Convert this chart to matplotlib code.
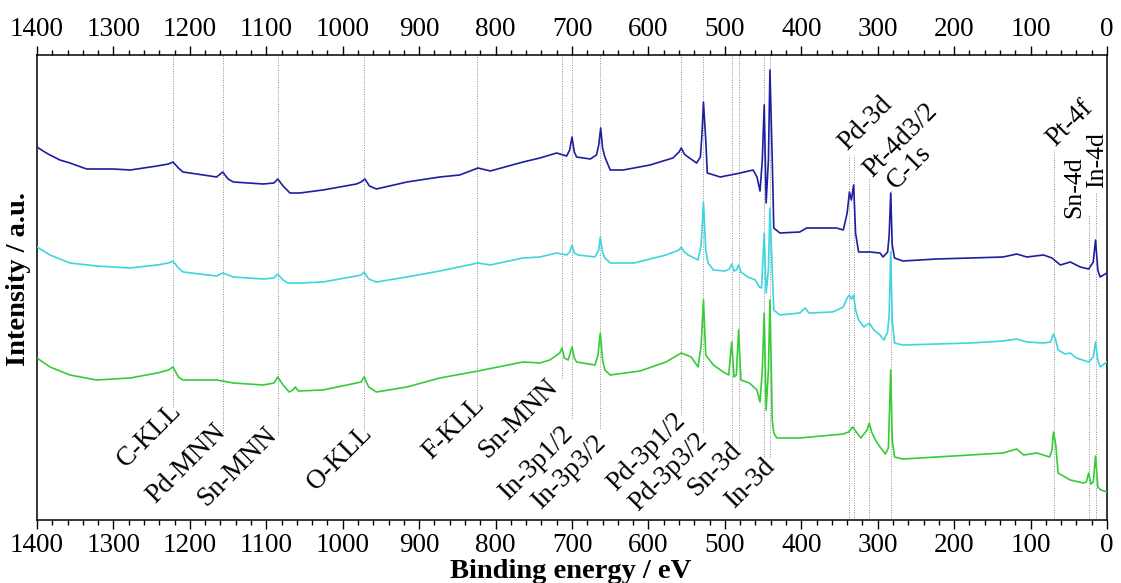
import matplotlib
matplotlib.use("Agg")
import matplotlib.pyplot as plt
from matplotlib.ticker import MultipleLocator

plt.rcParams['font.family'] = ['Liberation Serif', 'DejaVu Serif']
plt.rcParams['mathtext.fontset'] = 'stix'

# ---------------- data (binding energy in eV, intensity in a.u.) ----------------
blue_e = [1400, 1390, 1383, 1370, 1357, 1335, 1300, 1278, 1243, 1228, 1222, 1215, 1209, 1191,
          1165, 1157, 1150, 1143, 1104, 1090, 1085, 1078, 1069, 1056, 1026, 982, 976, 971, 965,
          956, 916, 873, 847, 823, 807, 764, 742, 720, 716, 707, 703, 700, 697, 694, 676, 668,
          665, 662.5, 660, 657, 650, 633, 598, 568, 560, 557, 553, 550, 537, 532, 530, 528, 525,
          523, 506, 480, 463, 458, 454, 451, 448.5, 446, 443, 441, 438, 436, 428, 402, 393, 367,
          354, 345, 340, 337, 334.5, 331.5, 329, 325, 310, 297, 293, 287, 285, 283, 281, 278,
          267, 223, 179, 136, 118, 105, 83, 72, 61, 48, 35, 24, 18, 15, 12, 9, 0]
blue_i = [373, 368, 365, 360, 357, 351, 351, 350, 354, 356, 358, 352, 348, 346,
          343, 348, 341, 338, 336, 337, 341, 334, 327, 327, 330, 336, 338, 341, 334,
          331, 338, 343, 345, 352, 349, 358, 362, 367, 366, 364, 370, 383, 368, 363, 361, 365,
          375, 392, 372, 363, 350, 350, 355, 362, 368, 372, 366, 364, 357, 363, 385, 418, 380,
          347, 343, 347, 350, 343, 329, 360, 415, 317, 360, 450, 360, 292, 287, 288, 292, 292,
          292, 290, 307, 328, 320, 335, 287, 268, 268, 267, 263, 268, 285, 327, 275, 262,
          259, 261, 262, 263, 266, 263, 265, 262, 255, 258, 253, 251, 258, 280, 250, 243, 247]

cyan_e = [1400, 1383, 1357, 1322, 1278, 1243, 1228, 1222, 1215, 1209, 1165, 1157, 1143, 1104,
          1090, 1085, 1078, 1072, 1056, 1026, 982, 976, 972, 966, 956, 916, 873, 823, 807, 764,
          742, 720, 707, 703, 700, 697, 692, 670, 665, 663, 660, 657, 650, 619, 577, 560, 557,
          553, 548, 535, 531, 528, 525, 522, 515, 500, 494, 491, 488, 485, 482, 479, 470, 460,
          455, 452, 448.5, 446, 443, 441, 438, 436, 428, 402, 395, 390, 359, 345, 340, 337, 334.5,
          331.5, 329, 325, 318, 311, 305, 297, 292, 287, 285, 283, 281, 278, 267, 223, 179, 136,
          118, 105, 83, 74, 70, 67, 64, 55, 48, 40, 24, 18, 15, 12, 9, 0]
cyan_i = [273, 265, 257, 254, 252, 255, 257, 259, 252, 248, 244, 247, 243, 241,
          242, 246, 240, 237, 237, 238, 244, 245, 248, 241, 238, 243, 249, 257, 255, 262,
          263, 267, 265, 268, 275, 267, 265, 263, 270, 283, 268, 262, 257, 257, 265, 270, 273,
          268, 265, 260, 275, 318, 270, 257, 250, 249, 251, 256, 249, 250, 255, 248, 243, 240,
          233, 232, 287, 227, 250, 312, 250, 210, 205, 207, 212, 207, 208, 213, 222, 225, 221,
          225, 210, 200, 193, 197, 190, 185, 180, 188, 205, 268, 200, 177, 175, 176, 177, 179,
          181, 178, 177, 178, 186, 180, 170, 166, 167, 162, 158, 163, 178, 160, 153, 158]

green_e = [1400, 1383, 1357, 1322, 1278, 1243, 1228, 1222, 1215, 1209, 1165, 1143, 1104, 1090,
           1085, 1078, 1070, 1065, 1062, 1058, 1026, 982, 976, 972, 966, 956, 916, 873, 823, 764,
           742, 729, 716, 713, 710, 705, 700, 697, 694, 670, 666, 663, 660, 657, 650, 611, 577,
           557, 544, 535, 531, 528, 525, 515, 502, 495, 491, 488, 485, 482, 479, 468, 458, 454,
           451, 448.5, 446, 443, 441, 438, 436, 432, 402, 359, 345, 338, 333, 328, 322, 314, 311,
           308, 303, 297, 290, 286, 283, 281, 278, 267, 223, 179, 136, 118, 109, 92, 75, 72, 70,
           67, 64, 48, 31, 27, 24, 21, 18, 15, 12, 8, 0]
green_i = [162, 153, 145, 140, 142, 147, 150, 153, 143, 140, 140, 137, 135, 137,
           143, 135, 128, 130, 133, 129, 130, 137, 138, 143, 133, 128, 133, 142, 149, 158,
           157, 160, 167, 172, 162, 160, 173, 162, 158, 155, 165, 187, 160, 150, 145, 149, 158,
           167, 163, 153, 175, 220, 165, 155, 148, 145, 178, 143, 145, 190, 140, 137, 130, 118,
           150, 207, 110, 150, 220, 100, 87, 82, 82, 85, 86, 88, 93, 88, 82, 90, 97,
           88, 80, 73, 66, 72, 150, 80, 63, 61, 63, 65, 67, 71, 65, 67, 63, 70, 88,
           75, 47, 40, 37, 38, 47, 36, 38, 64, 33, 30, 28]

# peak assignments
bottom_labels = ['C-KLL', 'Pd-MNN', 'Sn-MNN', 'O-KLL', 'F-KLL', 'Sn-MNN', 'In-3p1/2',
                 'In-3p3/2', 'Pd-3p1/2', 'Pd-3p3/2', 'Sn-3d', 'In-3d']
bottom_lines = [[1222], [1157], [1085], [972], [824], [713], [700], [663], [557], [528],
                [491, 482], [448.5, 441]]
top_labels = ['Pd-3d', 'Pt-4d3/2', 'C-1s', 'Pt-4f', 'Sn-4d', 'In-4d']
top_lines = [[337, 331.5], [311], [283], [70], [24], [15]]

# ---------------- layout (styles / positions) ----------------
W, H = 1121, 583
fig = plt.figure(figsize=(W / 100, H / 100), dpi=100)
ax = fig.add_axes([37 / W, 1 - 520 / H, (1107 - 37) / W, (520 - 55) / H])

YMAX = 465
def px2e(px):
    return 1400 - (px - 37) * 1400 / (1107 - 37)
def py2i(py):
    return 520 - py

bottom_pos = [(149, 435.5), (186.5, 464), (237, 467), (340, 457.5), (453.5, 428.5),
              (518, 419), (536, 463), (569, 472), (646.5, 452.5), (669, 472),
              (714.5, 470), (750, 483.5)]
bottom_end = [407, 433, 435, 430, 405, 378, 418, 428, 415, 432, 445, 457]
top_pos = [(866, 123.5), (901, 140), (909, 167), (1070, 123), (1074, 187), (1097, 160.5)]
top_start = [155, 178, 190, 150, 215, 192]
top_rot = [45, 45, 45, 45, 90, 90]
top_fs = [19.5, 19.5, 19.5, 19.5, 18.5, 18.5]

line_kw = dict(colors='#8c8c8c', linestyles=(0, (1, 1.5)), linewidths=0.7, zorder=1)
for lines, yend in zip(bottom_lines, bottom_end):
    ax.vlines(lines, py2i(yend), YMAX, **line_kw)
for lines, ystart in zip(top_lines, top_start):
    ax.vlines(lines, 0, py2i(ystart), **line_kw)

ax.plot(blue_e, blue_i, color='#1e1ea0', lw=1.2, zorder=3)
ax.plot(cyan_e, cyan_i, color='#3ed6dc', lw=1.2, zorder=3)
ax.plot(green_e, green_i, color='#36cc36', lw=1.2, zorder=3)

FS = 19.5
for lab, (px, py) in zip(bottom_labels, bottom_pos):
    ax.text(px2e(px), py2i(py), lab, rotation=45, rotation_mode='anchor',
            ha='center', va='center', fontsize=FS, zorder=4)
for lab, (px, py), rot, fs in zip(top_labels, top_pos, top_rot, top_fs):
    ax.text(px2e(px), py2i(py), lab, rotation=rot, rotation_mode='anchor',
            ha='center', va='center', fontsize=fs, zorder=4)

ax.set_xlim(1400, 0)
ax.set_ylim(0, YMAX)
ax.xaxis.set_major_locator(MultipleLocator(100))
ax.xaxis.set_minor_locator(MultipleLocator(20))
ax.tick_params(axis='x', which='both', top=True, labeltop=True, bottom=True,
               labelbottom=True, direction='out', labelsize=19.5, width=1.0, pad=3)
ax.tick_params(axis='x', which='major', length=6.5)
ax.tick_params(axis='x', which='minor', length=3.6)
ax.set_yticks([])
for s in ax.spines.values():
    s.set_linewidth(1.1)

fig.text(571 / W, 1 - 572 / H, 'Binding energy / eV', ha='center', va='center',
         fontsize=20.5, fontweight='bold')
fig.text(19 / W, 1 - 279 / H, 'Intensity / a.u.', ha='center', va='center',
         rotation=90, fontsize=20.5, fontweight='bold')

fig.savefig('out.png', dpi=100)
